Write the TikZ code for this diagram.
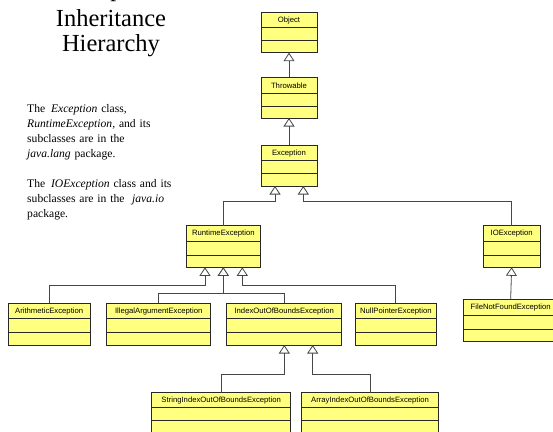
\documentclass[tikz,border=0pt]{standalone}
\usepackage{fontspec}
\setmainfont{Liberation Serif}
\newfontfamily\lblfont{Liberation Sans}
\usetikzlibrary{arrows.meta}
\definecolor{clsfill}{RGB}{255,255,128}
\definecolor{clsline}{RGB}{40,40,40}
\definecolor{conline}{RGB}{70,70,70}
\tikzset{
  cls/.style={draw=clsline, fill=clsfill, line width=0.8pt, inner sep=0pt, outer sep=0pt},
  sep/.style={draw=clsline, line width=0.8pt},
  lbl/.style={font=\lblfont\fontsize{7.7}{8}\selectfont, inner sep=0pt},
  inh/.style={draw=conline, line width=0.8pt,
    -{Triangle[length=8.5pt, width=11pt, fill=white, line width=0.8pt]}},
  ttl/.style={font=\fontsize{24.5}{25.5}\selectfont, inner sep=0pt},
  body/.style={font=\fontsize{11.6}{15}\selectfont, align=left, inner sep=0pt, text width=155pt}
}
\newcommand\umlclass[8]{%
  \node[cls, anchor=north west, minimum width={#4-#2}, minimum height={#5-#3}] (#1) at (#2,#3) {};
  \draw[sep] (#2,#6) -- (#4,#6);
  \draw[sep] (#2,#7) -- (#4,#7);
  \node[lbl] (#1-t) at ({(#2+#4)/2},{(#3+#6)/2+0.3}) {#8};
}
\begin{document}
\begin{tikzpicture}[x=1pt,y=-1pt]
\useasboundingbox (0,0) rectangle (553,431);
\clip (0,0) rectangle (553,431);
\fill[white] (0,0) rectangle (553,431);

% title and text
\node[ttl, anchor=base] (title0) at (111,-3) {Exception};
\node[ttl, anchor=base] (title1) at (111,26) {Inheritance};
\node[ttl, anchor=base] (title2) at (111,51.5) {Hierarchy};
\node[body, anchor=north west] (note1) at (27,104)
  {The \,\textit{Exception} class,\\\textit{RuntimeException,} and its\\subclasses are in the\\\textit{java.lang} package.};
\node[body, anchor=north west] (note2) at (27,179)
  {The \,\textit{IOException} class and its\\subclasses are in the \ \textit{java.io}\\package.};

% classes
\umlclass{obj}{261}{12.3}{317}{52.7}{27.7}{40}{Object}
\umlclass{thr}{261}{77}{317}{118}{93}{106}{Throwable}
\umlclass{exc}{261}{145.3}{317}{186}{160.7}{173.3}{Exception}
\umlclass{rte}{186}{225.7}{260.7}{267.3}{241}{255}{RuntimeException}
\umlclass{ioe}{483.3}{225.7}{540}{267.3}{241}{255}{IOException}
\umlclass{ari}{8.3}{303.3}{90}{345}{318.3}{332.3}{ArithmeticException}
\umlclass{iae}{106.7}{303.3}{210.7}{345}{318.3}{332.3}{IllegalArgumentException}
\umlclass{iob}{226.7}{303.3}{341.7}{345}{318.3}{332.3}{IndexOutOfBoundsException}
\umlclass{npe}{355}{303.3}{436.7}{345}{318.3}{332.3}{NullPointerException}
\umlclass{fnf}{463.3}{299.3}{558}{341.7}{315}{329.3}{FileNotFoundException}
\umlclass{sio}{151.7}{392.7}{290.7}{440}{407.7}{420}{StringIndexOutOfBoundsException}
\umlclass{aio}{301.7}{392.7}{438.3}{440}{407.7}{420}{ArrayIndexOutOfBoundsException}

% attachment points
\coordinate (exc-a) at (275,186);
\coordinate (exc-b) at (303.3,186);
\coordinate (rte-a) at (205,267.3);
\coordinate (rte-b) at (223.3,267.3);
\coordinate (rte-c) at (242.3,267.3);
\coordinate (iob-a) at (284.3,345);
\coordinate (iob-b) at (312.7,345);

% connectors
\draw[inh] (thr.north) -- (obj.south);
\draw[inh] (exc.north) -- (thr.south);
\draw[inh] (rte.north) -- ++(0,-24) -| (exc-a);
\draw[inh] (ioe.north) -- ++(0,-24) -| (exc-b);
\draw[inh] (ari.north) -- ++(0,-18.3) -| (rte-a);
\draw[inh] (iae.north) -- ++(0,-10.3) -| (rte-b);
\draw[inh] (iob.north) -- ++(0,-10.3) -| (rte-b);
\draw[inh] (npe.north) -- ++(0,-17.6) -| (rte-c);
\draw[inh] (fnf.north) -- (ioe.south);
\draw[inh] (sio.north) -- ++(0,-18.7) -| (iob-a);
\draw[inh] (aio.north) -- ++(0,-18.7) -| (iob-b);
\end{tikzpicture}
\end{document}
